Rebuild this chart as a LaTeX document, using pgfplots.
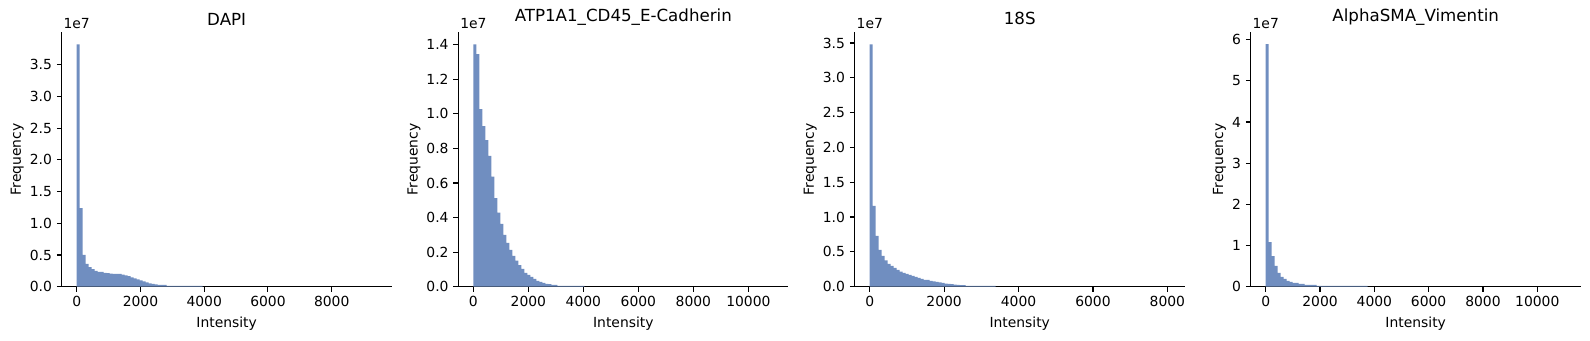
\documentclass[border=0pt]{standalone}
\usepackage{fontspec}
\setmainfont{DejaVu Sans}
\usepackage{pgfplots}
\usepackage{pgfplotstable}
\pgfplotsset{compat=1.18}

\definecolor{histblue}{RGB}{112,142,192}

% Histogram counts per bin (bin index, frequency in units of 10^7).
% The last row closes the final interval.
\pgfplotstableread{
bin f
0 3.82
1 1.24
2 0.50
3 0.36
4 0.31
5 0.278
6 0.25
7 0.233
8 0.233
9 0.218
10 0.215
11 0.205
12 0.203
13 0.202
14 0.20
15 0.188
16 0.18
17 0.165
18 0.148
19 0.132
20 0.116
21 0.10
22 0.085
23 0.069
24 0.053
25 0.045
26 0.038
27 0.03
28 0.029
29 0.027
30 0.013
31 0.013
32 0.013
33 0.013
34 0.013
35 0.013
36 0.013
37 0.013
38 0.013
39 0.013
40 0.013
41 0.013
42 0
}\dapi

\pgfplotstableread{
bin f
0 1.402
1 1.346
2 1.027
3 0.929
4 0.848
5 0.756
6 0.637
7 0.512
8 0.429
9 0.363
10 0.300
11 0.254
12 0.213
13 0.178
14 0.150
15 0.125
16 0.103
17 0.080
18 0.068
19 0.057
20 0.045
21 0.034
22 0.028
23 0.022
24 0.016
25 0.015
26 0.011
27 0.010
28 0.005
29 0.005
30 0.005
31 0.005
32 0.005
33 0.005
34 0.005
35 0.005
36 0.005
37 0
}\atp

\pgfplotstableread{
bin f
0 3.48
1 1.16
2 0.73
3 0.528
4 0.442
5 0.378
6 0.328
7 0.298
8 0.27
9 0.241
10 0.215
11 0.198
12 0.184
13 0.17
14 0.155
15 0.14
16 0.127
17 0.112
18 0.098
19 0.096
20 0.083
21 0.075
22 0.068
23 0.06
24 0.054
25 0.045
26 0.04
27 0.038
28 0.028
29 0.025
30 0.024
31 0.022
32 0.011
33 0.011
34 0.011
35 0.011
36 0.011
37 0.011
38 0.011
39 0.011
40 0.011
41 0.011
42 0
}\eighteen

\pgfplotstableread{
bin f
0 5.89
1 1.085
2 0.745
3 0.505
4 0.335
5 0.237
6 0.188
7 0.14
8 0.115
9 0.092
10 0.09
11 0.068
12 0.065
13 0.043
14 0.043
15 0.043
16 0.043
17 0.018
18 0.018
19 0.018
20 0.018
21 0.018
22 0.018
23 0.018
24 0.018
25 0.018
26 0.018
27 0.018
28 0.018
29 0.018
30 0.018
31 0.018
32 0.018
33 0.018
34 0
}\alphasma

\pgfplotsset{
  histpanel/.style={
    scale only axis,
    width=237.6pt, height=183.2pt,
    anchor=south west,
    clip=false,
    axis lines*=left,
    axis line style={line width=0.8pt, -},
    every tick/.style={line width=0.8pt, black},
    tick align=outside,
    major tick length=3.5pt,
    ymin=0,
    scaled ticks=false,
    /pgf/number format/assume math mode=true,
    /pgf/number format/1000 sep={},
    tick label style={font=\fontsize{10}{12}\selectfont},
    label style={font=\fontsize{10}{12}\selectfont},
    ylabel style={xshift=0pt, yshift=-2.5pt},
    title style={font=\fontsize{12}{14}\selectfont, yshift=-4.5pt},
    xlabel={Intensity},
    ylabel={Frequency},
    xtick={0,2000,4000,6000,8000,10000},
  },
  onedec/.style={yticklabel style={/pgf/number format/.cd, fixed, fixed zerofill, precision=1}},
  bars/.style={ybar interval, fill=histblue, draw=none},
  offsetlabel/.style={
    after end axis/.append code={
      \node[anchor=base west, inner sep=0pt, font=\fontsize{10}{12}\selectfont]
        at (rel axis cs:0,1) [xshift=1.2pt, yshift=2.6pt] {1e7};
    }
  },
}

\begin{document}
\begin{tikzpicture}
\useasboundingbox (-44.4pt,-38.4pt) rectangle (1100.4pt,206.4pt);

\begin{axis}[histpanel, onedec, offsetlabel, at={(0pt,0pt)},
  title={DAPI},
  xmin=-470.6, xmax=9881.6, ymax=4.011,
  ytick={0,0.5,1,1.5,2,2.5,3,3.5}]
  \addplot[bars] table[x expr=\thisrow{bin}*94.11, y=f] {\dapi};
\end{axis}

\begin{axis}[histpanel, onedec, offsetlabel, at={(285.6pt,0pt)},
  title={ATP1A1\_CD45\_E-Cadherin},
  xmin=-545.5, xmax=11454.5, ymax=1.472,
  ytick={0,0.2,0.4,0.6,0.8,1.0,1.2,1.4}]
  \addplot[bars] table[x expr=\thisrow{bin}*109.09, y=f] {\atp};
\end{axis}

\begin{axis}[histpanel, onedec, offsetlabel, at={(571.0pt,0pt)},
  title={18S},
  xmin=-403.2, xmax=8467.2, ymax=3.654,
  ytick={0,0.5,1,1.5,2,2.5,3,3.5}]
  \addplot[bars] table[x expr=\thisrow{bin}*80.64, y=f] {\eighteen};
\end{axis}

\begin{axis}[histpanel, offsetlabel, at={(856.1pt,0pt)},
  title={AlphaSMA\_Vimentin},
  xmin=-552.3, xmax=11598.3, ymax=6.18,
  ytick={0,1,2,3,4,5,6}]
  \addplot[bars] table[x expr=\thisrow{bin}*110.46, y=f] {\alphasma};
\end{axis}
\end{tikzpicture}
\end{document}
